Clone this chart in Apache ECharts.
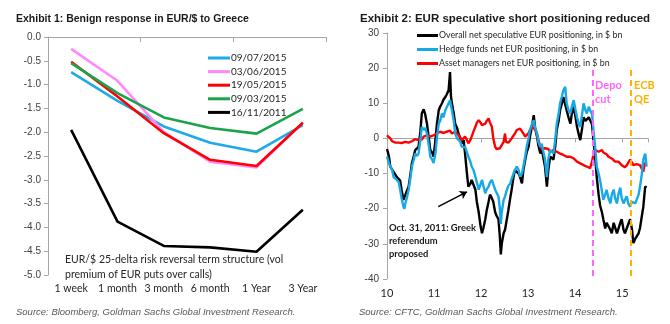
<!DOCTYPE html>
<html><head><meta charset="utf-8">
<script src="https://cdn.jsdelivr.net/npm/echarts@6/dist/echarts.min.js"></script>
<style>html,body{margin:0;padding:0;background:#fff}#c{width:670px;height:324px}</style>
</head><body><div id="c"></div>
<script>
// ---- Exhibit 1 data ----
const tenors = ['1 week','1 month','3 month','6 month','1 Year','3 Year'];
const names1 = ['09/07/2015','03/06/2015','19/05/2015','09/03/2015','16/11/2011'];
const rr0907 = [-0.74,-1.34,-1.88,-2.22,-2.41,-1.85];
const rr0306 = [-0.25,-0.92,-2.00,-2.62,-2.74,-1.80];
const rr1905 = [-0.52,-1.25,-2.02,-2.58,-2.71,-1.80];
const rr0903 = [-0.55,-1.18,-1.69,-1.91,-2.03,-1.51];
const rr1611 = [-1.95,-3.88,-4.39,-4.42,-4.51,-3.63];
const yTicks1 = {min:-5, max:0, interval:0.5};

// ---- Exhibit 2 data ([year, $bn]) ----
const names2 = ['Overall net speculative EUR positioning, in $ bn','Hedge funds net EUR positioning, in $ bn','Asset managers net EUR positioning, in $ bn'];
const overall = [[10.00,-3],[10.04,-5],[10.07,-8],[10.11,-7.5],[10.14,-9.5],[10.18,-10],[10.21,-11],[10.25,-10.5],[10.28,-12],[10.31,-14.6],[10.35,-17.5],[10.39,-17],[10.42,-15],[10.46,-13.7],[10.50,-10],[10.53,-7],[10.57,-5],[10.60,-3.3],[10.64,-3.5],[10.67,-2.4],[10.71,2],[10.74,7.1],[10.78,8.3],[10.81,7],[10.85,4.2],[10.89,0],[10.92,-3.3],[10.96,-4],[10.99,-5.2],[11.03,-0.5],[11.06,4],[11.10,8],[11.13,9],[11.17,10],[11.20,11],[11.24,11.8],[11.27,12.5],[11.31,13.7],[11.34,18.9],[11.36,12],[11.38,10],[11.42,7],[11.45,4.2],[11.49,3],[11.52,1.4],[11.56,0],[11.59,-1.4],[11.63,-0.5],[11.66,-4.3],[11.70,-10],[11.73,-13.7],[11.77,-13],[11.80,-11.8],[11.84,-12],[11.88,-14.6],[11.91,-18],[11.95,-21],[11.99,-25],[12.02,-27],[12.05,-25.5],[12.09,-23],[12.12,-20.5],[12.16,-18],[12.19,-16],[12.23,-17],[12.26,-18],[12.30,-21],[12.33,-22],[12.37,-23],[12.40,-28],[12.42,-33],[12.44,-30],[12.48,-27],[12.51,-26],[12.55,-25.5],[12.58,-20.5],[12.62,-17],[12.65,-14.6],[12.69,-11],[12.72,-9],[12.76,-9.5],[12.80,-10],[12.83,-11],[12.87,-12.8],[12.90,-9],[12.94,-6],[12.97,-4],[13.01,-2.4],[13.04,0.5],[13.08,3.3],[13.12,6.6],[13.15,3],[13.19,0.5],[13.22,-2],[13.26,-4.3],[13.29,-3],[13.33,-3.3],[13.36,-8],[13.40,-13.7],[13.43,-9],[13.47,-5.2],[13.50,-5],[13.54,-6],[13.58,-2],[13.61,2.4],[13.65,5],[13.68,8],[13.72,10],[13.75,11.8],[13.79,12],[13.82,8],[13.86,6],[13.90,4.2],[13.93,7],[13.97,9],[14.01,6],[14.04,3.3],[14.08,1],[14.11,-0.5],[14.15,3],[14.18,6],[14.22,5],[14.25,4.7],[14.29,6],[14.32,5.2],[14.36,4],[14.39,-0.5],[14.43,-6],[14.46,-11],[14.50,-16],[14.53,-19],[14.57,-21],[14.60,-23],[14.64,-25.6],[14.67,-24],[14.71,-24],[14.75,-26],[14.78,-27],[14.82,-24],[14.85,-24],[14.89,-27],[14.92,-27],[14.96,-24],[14.99,-23],[15.03,-26],[15.06,-27],[15.10,-25.5],[15.13,-25.5],[15.17,-23],[15.21,-26],[15.24,-29.8],[15.26,-30],[15.28,-28.5],[15.31,-28.5],[15.35,-27],[15.38,-25.5],[15.42,-22],[15.45,-19.5],[15.49,-13.7],[15.52,-14]];
const hedge = [[10.00,-5.2],[10.04,-7],[10.07,-8],[10.11,-9],[10.14,-11],[10.18,-11],[10.21,-11.8],[10.25,-12.5],[10.28,-14.6],[10.31,-17],[10.35,-19.4],[10.37,-20],[10.39,-18.5],[10.42,-17],[10.46,-14.6],[10.50,-11],[10.53,-8],[10.57,-6],[10.60,-4.3],[10.64,-5],[10.67,-4.3],[10.71,-0.5],[10.74,3.3],[10.78,2.4],[10.81,3],[10.85,1.4],[10.89,-2],[10.92,-5.2],[10.96,-6],[10.99,-7],[11.03,-4.3],[11.06,0],[11.10,4.2],[11.13,5],[11.17,7.1],[11.20,6],[11.24,8],[11.27,8.5],[11.31,10],[11.34,10.9],[11.38,8],[11.42,5],[11.45,1.4],[11.49,0],[11.52,-0.5],[11.56,-1],[11.59,-2.4],[11.63,-2],[11.66,-2.4],[11.70,-4],[11.73,-5.2],[11.77,-6.5],[11.80,-8],[11.84,-9],[11.88,-10.9],[11.91,-12.5],[11.95,-14.6],[11.99,-13],[12.02,-11.8],[12.05,-13.5],[12.09,-15.6],[12.12,-14.5],[12.16,-13.7],[12.19,-12.5],[12.23,-11.8],[12.26,-13],[12.30,-14.6],[12.33,-15],[12.37,-16.5],[12.40,-20],[12.42,-24.3],[12.44,-21],[12.48,-17.5],[12.51,-16.5],[12.55,-14.6],[12.58,-13.5],[12.62,-12.8],[12.65,-11.5],[12.69,-10],[12.72,-9],[12.76,-8],[12.80,-9],[12.83,-10.9],[12.87,-10],[12.90,-8],[12.94,-5],[12.97,-2.4],[13.01,0],[13.04,2.4],[13.08,4],[13.12,5.2],[13.15,3],[13.19,1.4],[13.22,-1],[13.26,-2.4],[13.29,-1.5],[13.33,-1.4],[13.36,-6],[13.40,-11],[13.43,-6],[13.47,-3.3],[13.50,-3.5],[13.54,-4.3],[13.58,0],[13.61,4.2],[13.65,7],[13.68,10],[13.72,12],[13.75,13.7],[13.79,14.7],[13.82,10],[13.86,8],[13.90,7.1],[13.93,9],[13.97,10.9],[14.01,8],[14.04,6],[14.08,4],[14.11,3.3],[14.15,7],[14.18,10],[14.22,8],[14.25,7.1],[14.29,9],[14.32,8],[14.36,7],[14.39,2.4],[14.43,-3],[14.46,-8],[14.50,-10],[14.53,-11.8],[14.57,-15],[14.60,-17.5],[14.64,-16],[14.67,-14.6],[14.71,-17],[14.75,-18.5],[14.78,-16],[14.82,-14.6],[14.85,-17],[14.89,-18.5],[14.92,-16],[14.96,-14],[14.99,-17],[15.03,-18.5],[15.06,-17.5],[15.10,-16.5],[15.13,-18.5],[15.17,-19.4],[15.21,-18],[15.24,-17.5],[15.28,-18.5],[15.31,-18.5],[15.35,-16],[15.38,-13.7],[15.42,-10],[15.45,-6],[15.49,-4.3],[15.52,-8]];
const assetMgr = [[10.00,0.9],[10.04,0.5],[10.07,0],[10.11,-0.8],[10.14,-1.2],[10.18,-1.2],[10.21,-1.4],[10.25,-1.2],[10.28,-0.9],[10.31,-1.3],[10.35,-1.4],[10.39,-1],[10.42,-0.9],[10.46,-1.2],[10.50,-1.4],[10.53,-0.8],[10.57,-0.5],[10.60,-0.2],[10.64,0],[10.67,-0.5],[10.71,-0.9],[10.74,-0.3],[10.78,0.5],[10.81,0.8],[10.85,0.9],[10.89,0.5],[10.92,0.5],[10.96,0.9],[10.99,0.9],[11.03,1.2],[11.06,1.4],[11.10,1.6],[11.13,1.9],[11.17,1.7],[11.20,1.6],[11.24,1.8],[11.27,1.9],[11.31,2.0],[11.34,2.2],[11.38,1.4],[11.42,1.4],[11.45,1.9],[11.49,1.4],[11.52,1.0],[11.56,0.9],[11.59,-0.5],[11.63,-0.5],[11.66,0.5],[11.70,-0.5],[11.73,-1.4],[11.77,-0.5],[11.80,0.5],[11.84,2],[11.88,3.3],[11.91,4.5],[11.95,5.2],[11.99,4.5],[12.02,3.8],[12.05,4],[12.09,4.2],[12.12,5],[12.16,5.7],[12.19,4.5],[12.23,3.3],[12.26,0],[12.30,-2.4],[12.33,-3],[12.37,-3.3],[12.40,-2.8],[12.44,-2.4],[12.48,-1],[12.51,1.4],[12.53,-1],[12.55,-1.4],[12.58,-1.2],[12.62,-0.9],[12.65,0],[12.69,0.5],[12.72,1.4],[12.76,2.4],[12.80,2.6],[12.83,2.8],[12.87,2],[12.90,1.4],[12.94,0.5],[12.97,0.5],[13.01,1.5],[13.04,2.4],[13.08,3.3],[13.12,3.8],[13.15,2.5],[13.19,1.4],[13.22,-0.5],[13.26,-2.4],[13.29,-3],[13.33,-3.3],[13.36,-2.8],[13.40,-2.4],[13.43,-3],[13.47,-3.8],[13.50,-3.5],[13.54,-3.3],[13.58,-3.8],[13.61,-3.8],[13.65,-4],[13.68,-4.3],[13.72,-4.6],[13.75,-4.7],[13.79,-5],[13.82,-5.2],[13.86,-5.5],[13.90,-5.2],[13.93,-5.5],[13.97,-5.7],[14.01,-6.2],[14.04,-6.6],[14.08,-7],[14.11,-7.1],[14.15,-7.3],[14.18,-7.6],[14.22,-7.8],[14.25,-8],[14.29,-8.3],[14.32,-8.5],[14.34,-7.5],[14.36,-6.6],[14.39,-4.5],[14.43,-3.3],[14.46,-3.8],[14.50,-3.8],[14.53,-3.3],[14.57,-3.3],[14.60,-4],[14.64,-3.8],[14.67,-4.5],[14.71,-5.2],[14.75,-5.7],[14.78,-5.7],[14.82,-6.2],[14.85,-6.6],[14.89,-6.6],[14.92,-6.6],[14.96,-7.1],[14.99,-7.6],[15.03,-8],[15.06,-8.2],[15.10,-7.6],[15.13,-7.1],[15.17,-6],[15.21,-5.7],[15.24,-7.6],[15.28,-7.1],[15.31,-7.3],[15.35,-6.8],[15.38,-7.6],[15.42,-8],[15.45,-9.5],[15.47,-8],[15.49,-7],[15.52,-7]];
const yTicks2 = {min:-40, max:30, interval:10};
const xTicks2 = {min:10, max:15.55, interval:1};
const depoCut = 14.37, ecbQE = 15.19;
const eventTop = 19.5, eventBottom = -40;
const arrowFrom = [11.09,-19.4], arrowTo = [11.70,-15.2];

const CAL = 'Lato, "Open Sans", sans-serif';
const ARI = '"Liberation Sans", Arial, sans-serif';
const axisGray = '#a6a6a6';
const labGray = '#404040';

const chart = echarts.init(document.getElementById('c'), null, {renderer:'canvas'});
const colors1 = ['#1fa9e8','#ff88ff','#ff0000','#1aa34a','#000000'];
const data1 = [rr0907, rr0306, rr1905, rr0903, rr1611];

const series = [];
data1.forEach((d,i)=>series.push({
  name:names1[i], type:'line', xAxisIndex:0, yAxisIndex:0, data:d,
  showSymbol:false, symbol:'none', lineStyle:{width:2.6,color:colors1[i]}, itemStyle:{color:colors1[i]}, silent:true
}));
series.push({name:names2[2], type:'line', xAxisIndex:2, yAxisIndex:1, data:assetMgr, showSymbol:false, symbol:'none',
  lineStyle:{width:2.4,color:'#ff0000'}, itemStyle:{color:'#ff0000'}, z:3,
  markLine:{silent:true, symbol:'none', label:{show:false}, data:[
    [{coord:[depoCut,eventTop], lineStyle:{color:'#ff66ff',type:[6,4],width:2}},{coord:[depoCut,eventBottom]}],
    [{coord:[ecbQE,eventTop], lineStyle:{color:'#ffb000',type:[6,4],width:2}},{coord:[ecbQE,eventBottom]}]
  ]}
});
series.push({name:names2[1], type:'line', xAxisIndex:2, yAxisIndex:1, data:hedge, showSymbol:false, symbol:'none',
  lineStyle:{width:2.4,color:'#16a9e6'}, itemStyle:{color:'#16a9e6'}, z:4});
series.push({name:names2[0], type:'line', xAxisIndex:2, yAxisIndex:1, data:overall, showSymbol:false, symbol:'none',
  lineStyle:{width:2.4,color:'#000000'}, itemStyle:{color:'#000000'}, z:2,
  markLine:{silent:true, symbol:['none','arrow'], symbolSize:7, label:{show:false},
    lineStyle:{color:'#000',type:'solid',width:1.5},
    data:[[{coord:arrowFrom},{coord:arrowTo}]]}
});

const option = {
  animation:false,
  backgroundColor:'#ffffff',
  grid:[
    {left:48, top:37, width:278, height:238},
    {left:387, top:33, width:261, height:246}
  ],
  xAxis:[
    {type:'category', gridIndex:0, data:tenors, position:'top', boundaryGap:true,
      axisLine:{show:true, lineStyle:{color:axisGray,width:1}},
      axisTick:{show:true, inside:true, length:5, lineStyle:{color:axisGray}},
      axisLabel:{show:false}, splitLine:{show:false}},
    {type:'category', gridIndex:0, data:tenors, position:'bottom', boundaryGap:true,
      axisLine:{show:false}, axisTick:{show:false}, splitLine:{show:false},
      axisLabel:{show:true, interval:0, margin:8, color:'#262626', fontFamily:CAL, fontSize:10.5}},
    {type:'value', gridIndex:1, min:xTicks2.min, max:xTicks2.max, interval:xTicks2.interval, position:'bottom',
      axisLine:{show:true, onZero:true, lineStyle:{color:axisGray,width:1}},
      axisTick:{show:true, length:4, lineStyle:{color:axisGray}},
      axisLabel:{show:false}, splitLine:{show:false}},
    {type:'value', gridIndex:1, min:xTicks2.min, max:xTicks2.max, interval:xTicks2.interval, position:'bottom',
      axisLine:{show:false, onZero:false}, axisTick:{show:false}, splitLine:{show:false},
      axisLabel:{show:true, margin:9, showMaxLabel:false, color:'#262626', fontFamily:CAL, fontSize:11,
        formatter:v=> (Math.abs(v-Math.round(v))<1e-6 ? String(Math.round(v)) : '')}}
  ],
  yAxis:[
    {type:'value', gridIndex:0, min:yTicks1.min, max:yTicks1.max, interval:yTicks1.interval,
      axisLine:{show:true, onZero:false, lineStyle:{color:axisGray,width:1}},
      axisTick:{show:true, length:4, lineStyle:{color:axisGray}},
      splitLine:{show:false},
      axisLabel:{margin:7, color:labGray, fontFamily:ARI, fontSize:10, formatter:v=>v.toFixed(1)}},
    {type:'value', gridIndex:1, min:yTicks2.min, max:yTicks2.max, interval:yTicks2.interval,
      axisLine:{show:true, onZero:false, lineStyle:{color:axisGray,width:1}},
      axisTick:{show:true, length:4, lineStyle:{color:axisGray}},
      splitLine:{show:false},
      axisLabel:{margin:8, color:labGray, fontFamily:ARI, fontSize:10}}
  ],
  legend:[
    {data:names1, orient:'vertical', left:203, top:48, itemGap:3.6, icon:'rect', itemWidth:22, itemHeight:3,
      textStyle:{fontFamily:CAL, fontSize:10, color:'#262626', padding:[0,0,0,-4]}, selectedMode:false},
    {data:names2, orient:'vertical', left:412, top:26, itemGap:5, icon:'rect', itemWidth:21, itemHeight:3,
      textStyle:{fontFamily:CAL, fontSize:8.8, color:'#262626', padding:[0,0,0,-4]}, selectedMode:false}
  ],
  graphic:[
    {type:'text', x:16, y:19, style:{text:'Exhibit 1: Benign response in EUR/$ to Greece', font:'bold 10.5px "Liberation Sans", Arial', fill:'#1a1a1a', textVerticalAlign:'middle'}},
    {type:'text', x:360, y:19, style:{text:'Exhibit 2: EUR speculative short positioning reduced', font:'bold 11.5px "Liberation Sans", Arial', fill:'#1a1a1a', textVerticalAlign:'middle'}},
    {type:'text', x:16, y:312, style:{text:'Source: Bloomberg, Goldman Sachs Global Investment Research.', font:'italic 9.5px "Liberation Sans", Arial', fill:'#595959', textVerticalAlign:'middle'}},
    {type:'text', x:359, y:312, style:{text:'Source: CFTC, Goldman Sachs Global Investment Research.', font:'italic 9.5px "Liberation Sans", Arial', fill:'#595959', textVerticalAlign:'middle'}},
    {type:'text', x:65, y:260, style:{text:'EUR/$ 25-delta risk reversal term structure (vol', font:'10.5px Lato', fill:'#262626', textVerticalAlign:'middle'}},
    {type:'text', x:65, y:275, style:{text:'premium of EUR puts over calls)', font:'10.5px Lato', fill:'#262626', textVerticalAlign:'middle'}},
    {type:'text', x:389, y:228, style:{text:'Oct. 31, 2011: Greek', font:'bold 9.4px Lato', fill:'#1a1a1a', textVerticalAlign:'middle'}},
    {type:'text', x:389, y:241, style:{text:'referendum', font:'bold 9.4px Lato', fill:'#1a1a1a', textVerticalAlign:'middle'}},
    {type:'text', x:389, y:254, style:{text:'proposed', font:'bold 9.4px Lato', fill:'#1a1a1a', textVerticalAlign:'middle'}},
    {type:'text', x:595, y:85, style:{text:'Depo', font:'bold 11px Lato', fill:'#ff66ff', textVerticalAlign:'middle'}},
    {type:'text', x:595, y:99, style:{text:'cut', font:'bold 11px Lato', fill:'#ff66ff', textVerticalAlign:'middle'}},
    {type:'text', x:634, y:85, style:{text:'ECB', font:'bold 11px Lato', fill:'#ffb000', textVerticalAlign:'middle'}},
    {type:'text', x:634, y:99, style:{text:'QE', font:'bold 11px Lato', fill:'#ffb000', textVerticalAlign:'middle'}}
  ],
  series
};
chart.setOption(option);
</script></body></html>
